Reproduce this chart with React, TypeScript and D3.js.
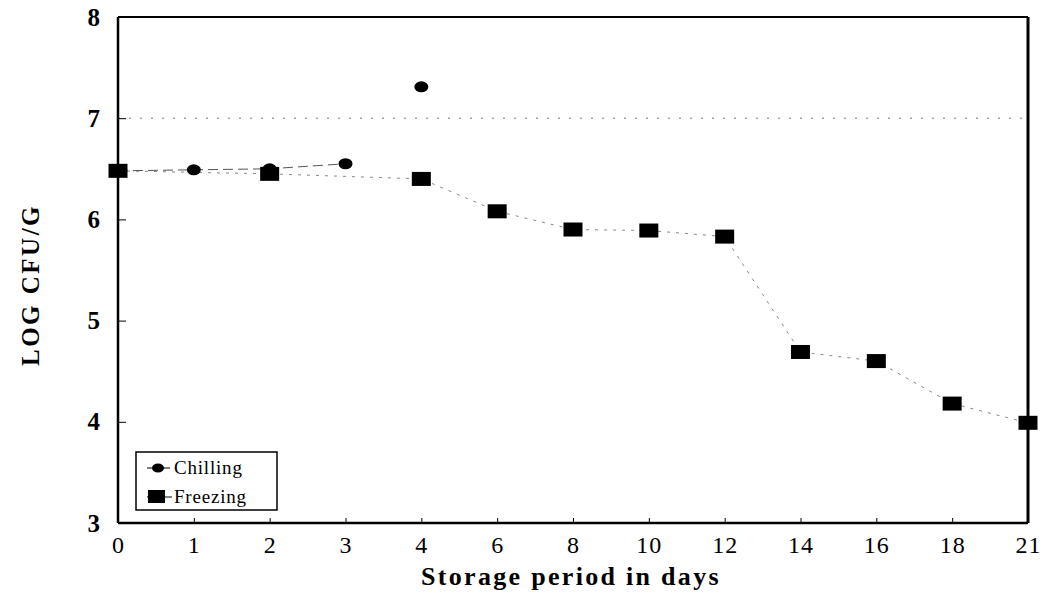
import React, { useRef, useEffect } from "react";
import * as d3 from "d3";

const days = ["0", "1", "2", "3", "4", "6", "8", "10", "12", "14", "16", "18", "21"];
const yTicks = [3, 4, 5, 6, 7, 8];
const chilling = [
  { day: "0", v: 6.48 },
  { day: "1", v: 6.49 },
  { day: "2", v: 6.5 },
  { day: "3", v: 6.55 },
  { day: "4", v: 7.31 },
];
const freezing = [
  { day: "0", v: 6.48 },
  { day: "2", v: 6.45 },
  { day: "4", v: 6.4 },
  { day: "6", v: 6.08 },
  { day: "8", v: 5.9 },
  { day: "10", v: 5.89 },
  { day: "12", v: 5.83 },
  { day: "14", v: 4.69 },
  { day: "16", v: 4.6 },
  { day: "18", v: 4.18 },
  { day: "21", v: 3.99 },
];

const W = 1048;
const H = 593;
const L = 118, R = 1028, T = 17, B = 523;
const font = "'Liberation Serif', 'DejaVu Serif', serif";

const App = () => {
  const svgRef = useRef<SVGSVGElement>(null);

  useEffect(() => {
    const svg = d3.select(svgRef.current);
    svg.selectAll("*").remove();

    const x = d3.scalePoint<string>().domain(days).range([L, R]);
    const y = d3.scaleLinear().domain([3, 8]).range([B, T]);

    // sparse dotted grid at 7
    svg
      .append("line")
      .attr("x1", L)
      .attr("x2", R)
      .attr("y1", y(7))
      .attr("y2", y(7))
      .attr("stroke", "#777")
      .attr("stroke-width", 1)
      .attr("stroke-dasharray", "2,9");

    const yAxis = d3.axisLeft(y).tickValues(yTicks).tickSize(-8).tickPadding(18).tickFormat(d3.format("d"));
    const gy = svg.append("g").attr("transform", `translate(${L},0)`).call(yAxis);
    gy.select(".domain").remove();
    gy.selectAll("line").attr("stroke", "#000").attr("stroke-width", 1);
    gy.selectAll("text")
      .attr("font-family", font)
      .attr("font-size", 25)
      .attr("font-weight", "bold")
      .attr("fill", "#000");

    const xAxis = d3.axisBottom(x).tickSize(-5).tickPadding(13);
    const gx = svg.append("g").attr("transform", `translate(0,${B})`).call(xAxis);
    gx.select(".domain").remove();
    gx.selectAll("line").attr("stroke", "#000").attr("stroke-width", 1);
    gx.selectAll("text")
      .attr("font-family", font)
      .attr("font-size", 24)
      .attr("letter-spacing", 1)
      .attr("fill", "#000");

    // frame
    svg.append("line").attr("x1", L).attr("x2", R).attr("y1", T).attr("y2", T).attr("stroke", "#000").attr("stroke-width", 2);
    svg.append("line").attr("x1", L).attr("x2", R).attr("y1", B).attr("y2", B).attr("stroke", "#000").attr("stroke-width", 2.5);
    svg.append("line").attr("x1", L).attr("x2", L).attr("y1", T).attr("y2", B).attr("stroke", "#000").attr("stroke-width", 2.5);
    svg.append("line").attr("x1", R).attr("x2", R).attr("y1", T).attr("y2", B).attr("stroke", "#000").attr("stroke-width", 3);

    const ln = d3
      .line<{ day: string; v: number }>()
      .x((d) => x(d.day) as number)
      .y((d) => y(d.v));

    svg
      .append("path")
      .datum(freezing)
      .attr("d", ln)
      .attr("fill", "none")
      .attr("stroke", "#888")
      .attr("stroke-width", 1)
      .attr("stroke-dasharray", "3,6");

    svg
      .append("path")
      .datum(chilling.slice(0, 4))
      .attr("d", ln)
      .attr("fill", "none")
      .attr("stroke", "#555")
      .attr("stroke-width", 1)
      .attr("stroke-dasharray", "10,5");

    svg
      .selectAll(".sq")
      .data(freezing)
      .join("rect")
      .attr("x", (d) => (x(d.day) as number) - 9.5)
      .attr("y", (d) => y(d.v) - 7)
      .attr("width", 19)
      .attr("height", 14)
      .attr("fill", "#000");

    svg
      .selectAll(".ci")
      .data(chilling.slice(1))
      .join("ellipse")
      .attr("cx", (d) => x(d.day) as number)
      .attr("cy", (d) => y(d.v))
      .attr("rx", 7)
      .attr("ry", 5.5)
      .attr("fill", "#000");

    // axis titles
    svg
      .append("text")
      .attr("x", 571)
      .attr("y", 585)
      .attr("text-anchor", "middle")
      .attr("font-family", font)
      .attr("font-size", 26)
      .attr("font-weight", "bold")
      .attr("letter-spacing", 2.3)
      .text("Storage period in days");

    svg
      .append("text")
      .attr("transform", `translate(39,285) rotate(-90)`)
      .attr("text-anchor", "middle")
      .attr("font-family", font)
      .attr("font-size", 25)
      .attr("font-weight", "bold")
      .attr("letter-spacing", 2.5)
      .text("LOG CFU/G");

    // legend
    const lg = svg.append("g");
    lg.append("rect")
      .attr("x", 136)
      .attr("y", 452)
      .attr("width", 141)
      .attr("height", 58)
      .attr("fill", "#fff")
      .attr("stroke", "#000")
      .attr("stroke-width", 1.5);
    lg.append("line").attr("x1", 147).attr("x2", 170).attr("y1", 468).attr("y2", 468).attr("stroke", "#000");
    lg.append("ellipse").attr("cx", 158).attr("cy", 468).attr("rx", 6).attr("ry", 4.5).attr("fill", "#000");
    lg.append("line").attr("x1", 147).attr("x2", 172).attr("y1", 497).attr("y2", 497).attr("stroke", "#000");
    lg.append("rect").attr("x", 148).attr("y", 490).attr("width", 17).attr("height", 13).attr("fill", "#000");
    lg.append("text")
      .attr("x", 174)
      .attr("y", 474)
      .attr("font-family", font)
      .attr("font-size", 19)
      .attr("letter-spacing", 0.8)
      .text("Chilling");
    lg.append("text")
      .attr("x", 174)
      .attr("y", 503)
      .attr("font-family", font)
      .attr("font-size", 19)
      .attr("letter-spacing", 0.8)
      .text("Freezing");
  }, []);

  return <svg ref={svgRef} width={W} height={H} style={{ position: "absolute", left: 0, top: 0, background: "#fff" }} />;
};

export default App;
